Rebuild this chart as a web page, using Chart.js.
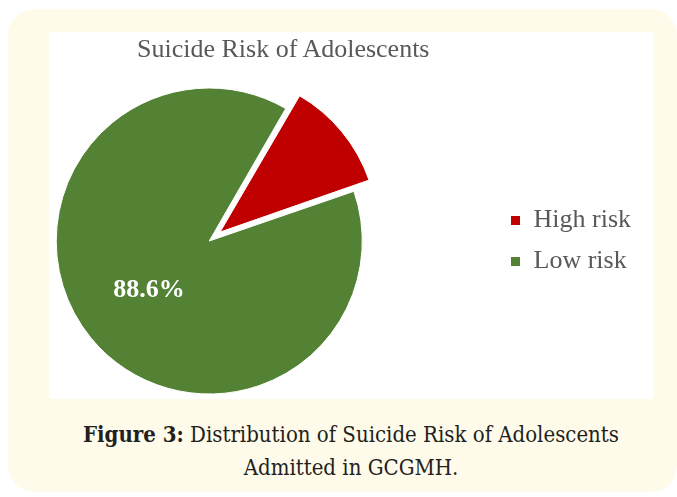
<!DOCTYPE html>
<html>
<head>
<meta charset="utf-8">
<script src="https://cdn.jsdelivr.net/npm/chart.js@4.4.1/dist/chart.umd.min.js"></script>
<style>
  html, body { margin: 0; padding: 0; background: #fff; width: 677px; height: 497px; overflow: hidden; position: relative; }
  #frame { position: absolute; left: 8px; top: 9px; width: 669px; height: 483px; background: #fffbea; border-radius: 26px; }
  #plot { position: absolute; left: 49px; top: 32px; width: 604px; height: 367px; background: #fff; }
  #plot canvas { position: absolute; left: -126px; top: 0; }
  #title { position: absolute; left: 137px; top: 36px; font: 26px/26px "Liberation Serif", serif; color: #595959; white-space: nowrap; }
  #caption { position: absolute; left: 49px; width: 604px; top: 418px; text-align: center;
             font: 22px/33px "DejaVu Serif Condensed", "DejaVu Serif", serif; color: #231f20; }
</style>
</head>
<body>
<div id="frame"></div>
<div id="plot"><canvas id="pie" width="730" height="367"></canvas></div>
<div id="title">Suicide Risk of Adolescents</div>
<div id="caption"><b>Figure 3:</b> Distribution of Suicide Risk of Adolescents<br>Admitted in GCGMH.</div>
<script>
const categories = ["High risk", "Low risk"];
const riskShare  = [11.4, 88.6];
const showValue  = [false, true];

// white percentage text inside the slices
const sliceLabels = {
  id: "sliceLabels",
  afterDatasetsDraw(chart) {
    const ctx  = chart.ctx;
    const meta = chart.getDatasetMeta(0);
    ctx.save();
    ctx.font = "bold 26px 'Liberation Serif'";
    ctx.fillStyle = "#fff";
    ctx.textAlign = "center";
    ctx.textBaseline = "middle";
    meta.data.forEach((arc, i) => {
      if (!showValue[i]) return;
      const p   = arc.getProps(["x", "y", "startAngle", "endAngle", "outerRadius"], true);
      const mid = (p.startAngle + p.endAngle) / 2;
      const r   = p.outerRadius * 0.51;
      ctx.fillText(riskShare[i].toFixed(1) + "%", p.x + Math.cos(mid) * r, p.y + Math.sin(mid) * r);
    });
    ctx.restore();
  }
};

new Chart(document.getElementById("pie"), {
  type: "pie",
  data: {
    labels: categories,
    datasets: [{
      data: riskShare,
      backgroundColor: ["#c00000", "#548235"],
      borderColor: "#fff",
      borderWidth: 1,
      offset: [56, 0],   // arc offset is drawn at 1/4 in v4
      rotation: 30,
      radius: 153,
      clip: false,
    }],
  },
  options: {
    responsive: false,
    animation: false,
    layout: { padding: { left: 0, right: 12, top: 51, bottom: 0 } },
    plugins: {
      legend: {
        position: "right",
        labels: {
          boxWidth: 10,
          boxHeight: 10,
          padding: 15,
          color: "#595959",
          font: { family: "'Liberation Serif'", size: 26 },
        },
      },
      tooltip: { enabled: false },
    },
  },
  plugins: [sliceLabels],
});
</script>
</body>
</html>
